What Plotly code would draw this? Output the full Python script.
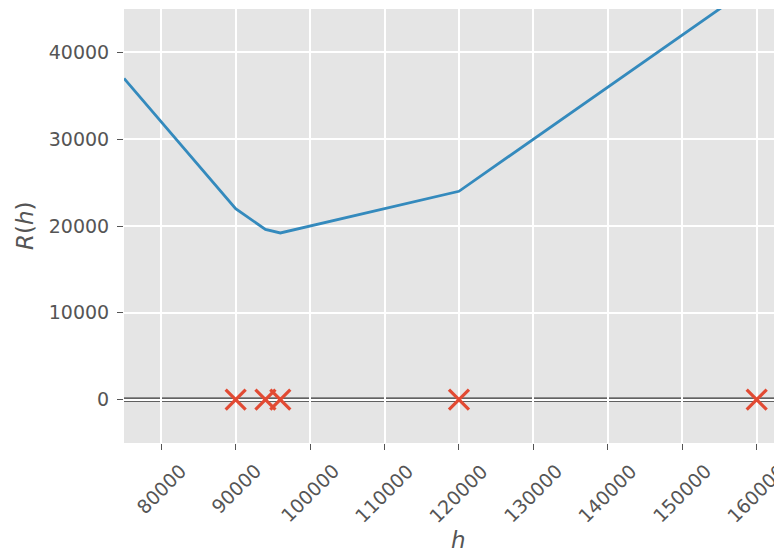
import plotly.graph_objects as go

# --- data ---
h_curve = [75000, 90000, 94000, 96000, 120000, 160000]
R_curve = [37000, 22000, 19600, 19200, 24000, 48000]
h_points = [90000, 94000, 96000, 120000, 160000]
y_points = [0, 0, 0, 0, 0]
x_ticks = [80000, 90000, 100000, 110000, 120000, 130000, 140000, 150000, 160000]
y_ticks = [0, 10000, 20000, 30000, 40000]

# the page body has an 8px margin; size the figure so the plot lands where the reference has it
OFF = 8
W, H = 782 - OFF, 550 - OFF
L, R_, T, B = 124 - OFF, 0, 9 - OFF, 107
pw = W - L - R_
ph = H - T - B
plot_bottom_page = OFF + T + ph  # page y of plot bottom

FONT = "DejaVu Sans"
TXT = "#555555"

fig = go.Figure()
fig.add_trace(go.Scatter(x=h_curve, y=R_curve, mode="lines",
                         line=dict(color="#348ABD", width=2.8),
                         showlegend=False, hoverinfo="skip"))
fig.add_trace(go.Scatter(x=h_points, y=y_points, mode="markers",
                         marker=dict(symbol="x-thin", size=20, color="#E24A33",
                                     line=dict(color="#E24A33", width=3.2)),
                         showlegend=False, hoverinfo="skip"))

# double horizontal line at 0
fig.add_shape(type="line", xref="paper", yref="y", x0=0, x1=1, y0=0, y1=0,
              line=dict(color="#333333", width=4.4), layer="below")
fig.add_shape(type="line", xref="paper", yref="y", x0=0, x1=1, y0=0, y1=0,
              line=dict(color="#eeeeee", width=1.8), layer="below")

annotations = []
for t in x_ticks:
    annotations.append(dict(x=t, xref="x", y=-(457 - plot_bottom_page) / ph, yref="paper",
                            text=str(t), showarrow=False, textangle=-45,
                            xanchor="center", yanchor="top",
                            font=dict(family=FONT, size=19, color=TXT)))
annotations.append(dict(x=(458 - OFF - L) / pw, xref="paper",
                        y=-(540 - plot_bottom_page) / ph, yref="paper",
                        text="<i>h</i>", showarrow=False, xanchor="center", yanchor="middle",
                        font=dict(family=FONT, size=23, color=TXT)))
annotations.append(dict(x=-(L - (25 - OFF)) / pw, xref="paper", y=0.5, yref="paper",
                        text="<i>R</i>(<i>h</i>)", showarrow=False, textangle=-90,
                        xanchor="center", yanchor="middle",
                        font=dict(family=FONT, size=23, color=TXT)))

fig.update_layout(
    width=W, height=H,
    margin=dict(l=L, r=R_, t=T, b=B, pad=0),
    paper_bgcolor="white", plot_bgcolor="#E5E5E5",
    font=dict(family=FONT, size=19, color=TXT),
    annotations=annotations,
    xaxis=dict(range=[75000, 163400], tickvals=x_ticks, showticklabels=False,
               showgrid=True, gridcolor="white", gridwidth=1.6, zeroline=False,
               ticks="outside", ticklen=6, tickwidth=1.2, tickcolor="#555555",
               showline=False),
    yaxis=dict(range=[-5000, 45000], tickvals=y_ticks, tickformat="d",
               showgrid=True, gridcolor="white", gridwidth=1.6, zeroline=False,
               ticks="outside", ticklen=6, tickwidth=1.2, tickcolor="#555555",
               showline=False, tickfont=dict(family=FONT, size=19, color=TXT),
               ticklabelstandoff=4),
)

fig.write_html("out.html")
